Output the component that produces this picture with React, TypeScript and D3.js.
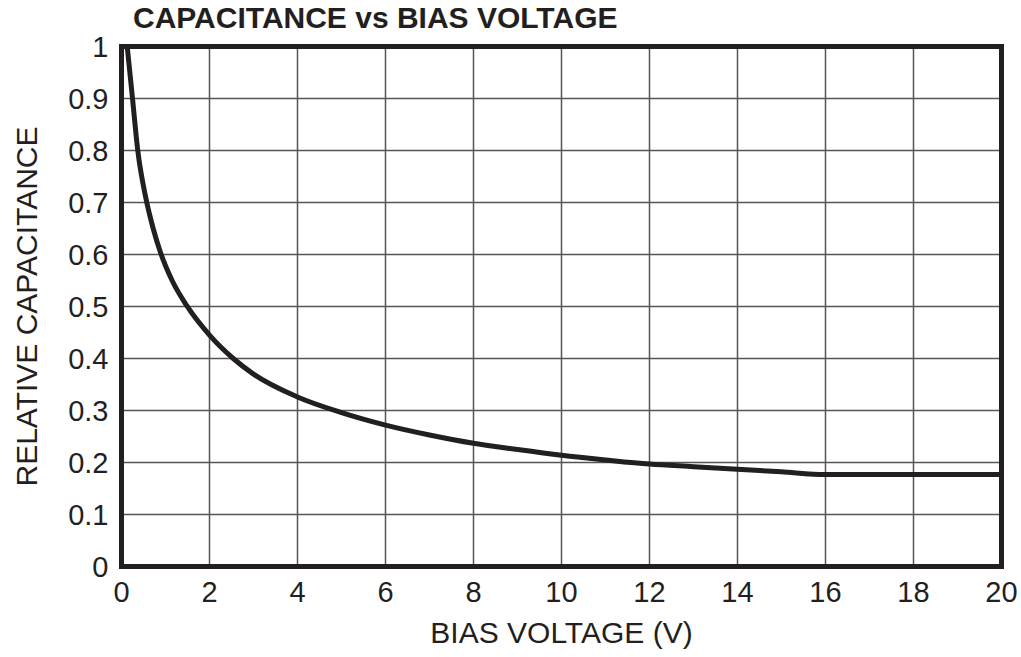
import * as d3 from 'd3';

const voltage = [0.13, 0.25, 0.37, 0.55, 0.72, 0.89, 1.15, 1.48, 2, 2.54, 3, 4, 5, 6, 7, 8, 9, 10, 11, 12, 13, 14, 15, 16, 18, 20];
const capacitance = [1.0, 0.9, 0.8, 0.71, 0.65, 0.603, 0.55, 0.502, 0.445, 0.4, 0.37, 0.326, 0.296, 0.272, 0.253, 0.237, 0.225, 0.214, 0.205, 0.197, 0.192, 0.187, 0.182, 0.177, 0.177, 0.177];
const xTicks = [0, 2, 4, 6, 8, 10, 12, 14, 16, 18, 20];
const yTicks = [0, 0.1, 0.2, 0.3, 0.4, 0.5, 0.6, 0.7, 0.8, 0.9, 1];

const title = 'CAPACITANCE vs BIAS VOLTAGE';
const xLabel = 'BIAS VOLTAGE (V)';
const yLabel = 'RELATIVE CAPACITANCE';

export default function App() {
  const width = 1021;
  const height = 657;
  const margin = { top: 46.5, right: 19.5, bottom: 90.5, left: 121.5 };
  const innerW = width - margin.left - margin.right;
  const innerH = height - margin.top - margin.bottom;

  const x = d3.scaleLinear().domain([0, 20]).range([0, innerW]);
  const y = d3.scaleLinear().domain([0, 1]).range([innerH, 0]);

  const points = voltage.map((v, i) => [v, capacitance[i]] as [number, number]);
  const line = d3
    .line<[number, number]>()
    .x(d => x(d[0]))
    .y(d => y(d[1]))
    .curve(d3.curveMonotoneX);

  const font = '"Liberation Sans", Arial, sans-serif';

  return (
    <svg
      width={width}
      height={height}
      style={{ position: 'absolute', left: 0, top: 0, background: '#fff' }}
      fontFamily={font}
    >
      <text x={133} y={28} fontSize={30} fontWeight="bold" fill="#231f20">
        {title}
      </text>
      <g transform={`translate(${margin.left},${margin.top})`}>
        {xTicks.map(t => (
          <line key={`gx${t}`} x1={x(t)} x2={x(t)} y1={0} y2={innerH} stroke="#555" strokeWidth={1.5} />
        ))}
        {yTicks.map(t => (
          <line key={`gy${t}`} x1={0} x2={innerW} y1={y(t)} y2={y(t)} stroke="#555" strokeWidth={1.5} />
        ))}
        <defs>
          <clipPath id="plot">
            <rect x={0} y={0} width={innerW} height={innerH} />
          </clipPath>
        </defs>
        <path d={line(points) ?? ''} fill="none" stroke="#231f20" strokeWidth={5} clipPath="url(#plot)" />
        <rect x={0} y={0} width={innerW} height={innerH} fill="none" stroke="#231f20" strokeWidth={5} />
        {xTicks.map(t => (
          <text key={`tx${t}`} x={x(t)} y={innerH + 35.5} textAnchor="middle" fontSize={29} fill="#231f20">
            {t}
          </text>
        ))}
        {yTicks.map(t => (
          <text key={`ty${t}`} x={-13} y={y(t) + 10} textAnchor="end" fontSize={29} fill="#231f20">
            {t === 0 || t === 1 ? String(t) : t.toFixed(1)}
          </text>
        ))}
        <text x={x(10)} y={innerH + 76.5} textAnchor="middle" fontSize={30} fill="#231f20">
          {xLabel}
        </text>
        <text
          transform={`translate(${-85},${innerH / 2}) rotate(-90)`}
          textAnchor="middle"
          fontSize={30}
          fill="#231f20"
        >
          {yLabel}
        </text>
      </g>
    </svg>
  );
}
